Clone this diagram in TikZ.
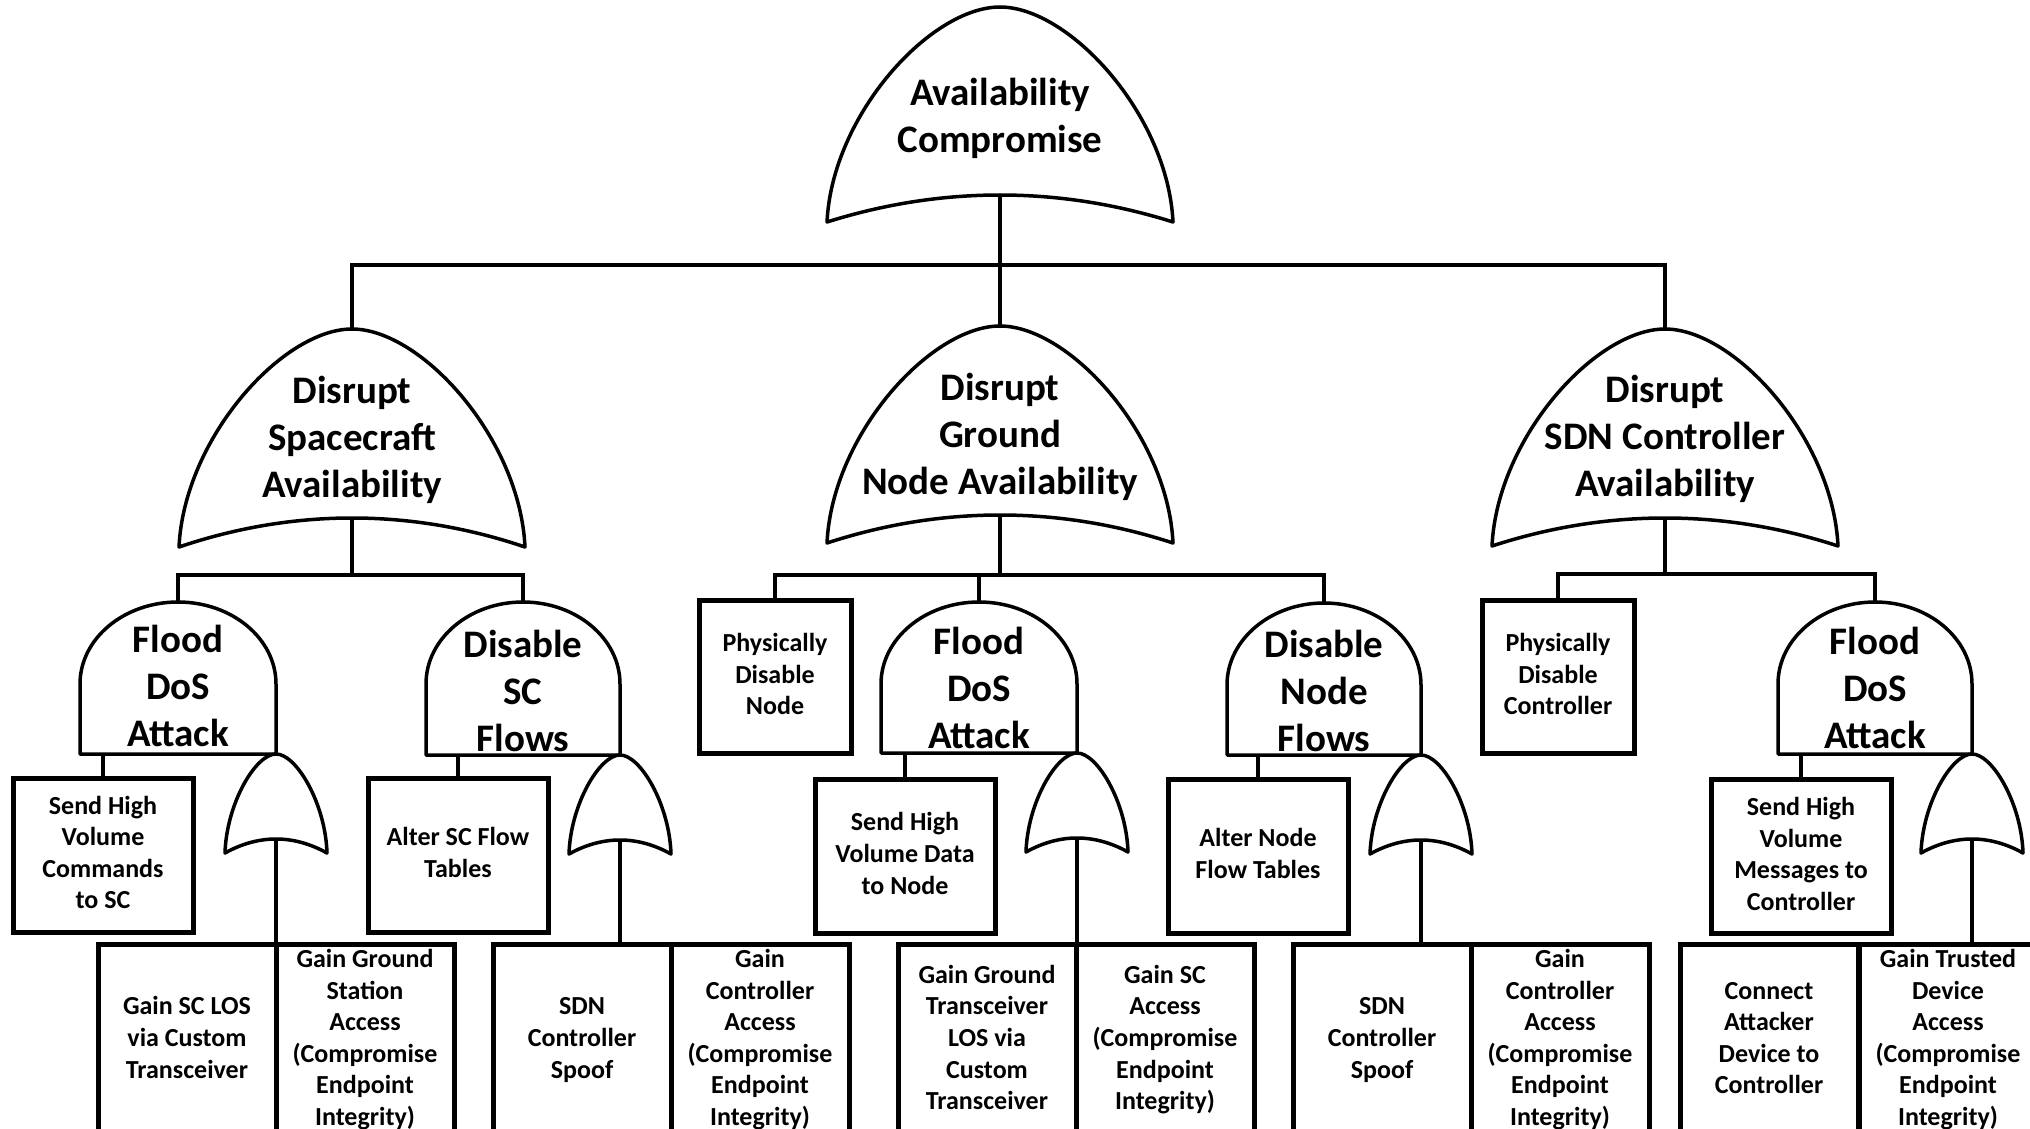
\documentclass[tikz,border=0pt]{standalone}
\usepackage{fontspec}
\setmainfont{Carlito}
\newcommand{\bigtxt}{\fontsize{39}{47}\selectfont\bfseries}
\newcommand{\smalltxt}{\fontsize{26}{31.6}\selectfont\bfseries}
\newcommand{\hiStrut}{\rule{0pt}{0.75em}}
\newcommand{\loStrut}{\rule[-0.25em]{0pt}{0.25em}}

\tikzset{
  gate/.style={draw=black, line width=3.5pt, fill=white, line join=round},
  conn/.style={draw=black, line width=4pt},
  box/.style={draw=black, line width=5pt, inner sep=0pt, align=center,
    font=\smalltxt, rectangle},
  leafbox/.style={box, minimum width=180pt, minimum height=154pt},
  physbox/.style={box, minimum width=152pt, minimum height=153pt},
  basebox/.style={box, minimum width=178pt, minimum height=192pt},
  gatetext/.style={align=center, font=\bigtxt, inner sep=0pt},
}

% OR gate: name, centre x, corner y, half width, height, bottom sag
\newcommand{\orgate}[6]{%
  \draw[gate] ({#2-#4},#3)
    .. controls ({#2-0.97*#4},{#3-0.5*#5}) and ({#2-0.4*#4},{#3-#5}) .. ({#2},{#3-#5})
    .. controls ({#2+0.4*#4},{#3-#5}) and ({#2+0.97*#4},{#3-0.5*#5}) .. ({#2+#4},#3)
    .. controls ({#2+0.34*#4},{#3-#6/0.75}) and ({#2-0.34*#4},{#3-#6/0.75}) .. ({#2-#4},#3)
    -- cycle;
  \coordinate (#1-top) at ({#2},{#3-#5});
  \coordinate (#1-bot) at ({#2},{#3-#6});
}

% AND gate: name, centre x, top y, bottom y, half width, dome height
\newcommand{\andgate}[6]{%
  \draw[gate] ({#2-#5},#4) -- ({#2-#5},{#3+#6})
    .. controls ({#2-#5},{#3+0.4477*#6}) and ({#2-0.5523*#5},#3) .. ({#2},#3)
    .. controls ({#2+0.5523*#5},#3) and ({#2+#5},{#3+0.4477*#6}) .. ({#2+#5},{#3+#6})
    -- ({#2+#5},#4) -- cycle;
  \coordinate (#1-top) at ({#2},#3);
  \coordinate (#1-br) at ({#2+#5},#4);
}

\begin{document}
\begin{tikzpicture}[x=1pt,y=-1pt]
\useasboundingbox (0,0) rectangle (2030,1129);
\fill[white] (0,0) rectangle (2030,1129);
\clip (0,0) rectangle (2030,1129);

% ---- top event and first level
\orgate{g0}{1000}{222}{173}{215}{27}
\node[gatetext] (t0) at (1000,119) {\hiStrut Availability\\Compromise\loStrut};

\orgate{gA}{352}{547}{173}{218}{29}
\node[gatetext] (tA) at (352,441) {\hiStrut Disrupt\\Spacecraft\\Availability\loStrut};
\orgate{gB}{1000}{543}{173}{217}{28}
\node[gatetext] (tB) at (1000,437.5) {\hiStrut Disrupt\\Ground\\Node Availability\loStrut};
\orgate{gC}{1665}{546}{173}{217}{28}
\node[gatetext] (tC) at (1665,440) {\hiStrut Disrupt\\SDN Controller\\Availability\loStrut};

% ---- AND gates
\andgate{fA}{178}{602}{754}{98}{82}
\node[gatetext] (tfA) at (178,690) {\hiStrut Flood\\DoS\\Attack\loStrut};
\andgate{dA}{523}{602}{755}{97}{82}
\node[gatetext] (tdA) at (523,695) {\hiStrut Disable\\SC\\Flows\loStrut};
\andgate{fB}{979}{602}{753}{98}{82}
\node[gatetext] (tfB) at (979,692) {\hiStrut Flood\\DoS\\Attack\loStrut};
\andgate{dB}{1324}{603}{755}{97}{82}
\node[gatetext] (tdB) at (1324,695) {\hiStrut Disable\\Node\\Flows\loStrut};
\andgate{fC}{1875}{602}{754}{97}{82}
\node[gatetext] (tfC) at (1875,692) {\hiStrut Flood\\DoS\\Attack\loStrut};

% ---- small OR gates hanging from the AND gates
\orgate{oA}{276}{853}{51}{99}{14}
\orgate{oD}{620}{854}{51}{99}{14}
\orgate{oB}{1077}{852}{51}{99}{14}
\orgate{oE}{1421}{854}{51}{99}{14}
\orgate{oC}{1972}{853}{51}{99}{14}

% ---- basic events
\node[physbox] (pN) at (775,676.5) {\hiStrut Physically\\Disable\\Node\loStrut};
\node[physbox] (pC) at (1558,676.5) {\hiStrut Physically\\Disable\\Controller\loStrut};

\node[leafbox] (sA) at (103,855) {\hiStrut Send High\\Volume\\Commands\\to SC\loStrut};
\node[leafbox] (aA) at (458,855) {\hiStrut Alter SC Flow\\Tables\loStrut};
\node[leafbox] (sB) at (905,856) {\hiStrut Send High\\Volume Data\\to Node\loStrut};
\node[leafbox] (aB) at (1258,856) {\hiStrut Alter Node\\Flow Tables\loStrut};
\node[leafbox] (sC) at (1801,856.5) {\hiStrut Send High\\Volume\\Messages to\\Controller\loStrut};

\node[basebox] (b1l) at (187,1040) {\hiStrut Gain SC LOS\\via Custom\\Transceiver\loStrut};
\node[basebox] (b1r) at (365,1040) {\hiStrut Gain Ground\\Station\\Access\\(Compromise\\Endpoint\\Integrity)\loStrut};
\node[basebox] (b2l) at (582,1040) {\hiStrut SDN\\Controller\\Spoof\loStrut};
\node[basebox] (b2r) at (760,1040) {\hiStrut Gain\\Controller\\Access\\(Compromise\\Endpoint\\Integrity)\loStrut};
\node[basebox] (b3l) at (987,1040) {\hiStrut Gain Ground\\Transceiver\\LOS via\\Custom\\Transceiver\loStrut};
\node[basebox] (b3r) at (1165,1040) {\hiStrut Gain SC\\Access\\(Compromise\\Endpoint\\Integrity)\loStrut};
\node[basebox] (b4l) at (1382,1040) {\hiStrut SDN\\Controller\\Spoof\loStrut};
\node[basebox] (b4r) at (1560,1040) {\hiStrut Gain\\Controller\\Access\\(Compromise\\Endpoint\\Integrity)\loStrut};
\node[basebox] (b5l) at (1769,1040) {\hiStrut Connect\\Attacker\\Device to\\Controller\loStrut};
\node[basebox] (b5r) at (1948,1040) {\hiStrut Gain Trusted\\Device\\Access\\(Compromise\\Endpoint\\Integrity)\loStrut};

% ---- connectors
\coordinate (bar0) at (1000,265);
\draw[conn] (g0-bot) -- (gB-top);
\draw[conn] (gA-top) |- (bar0) -| (gC-top);

\coordinate (barA) at (352,575);
\draw[conn] (gA-bot) -- (barA);
\draw[conn] (fA-top) |- (barA) -| (dA-top);

\coordinate (barB) at (1000,575);
\draw[conn] (gB-bot) -- (barB);
\draw[conn] (pN.north) |- (barB) -| (dB-top);
\draw[conn] (fB-top) -- (fB-top |- barB);

\coordinate (barC) at (1665,574);
\draw[conn] (gC-bot) -- (barC);
\draw[conn] (pC.north) |- (barC) -| (fC-top);

\draw[conn] (sA.north) -- (sA.north |- fA-br);
\draw[conn] (aA.north) -- (aA.north |- dA-br);
\draw[conn] (sB.north) -- (sB.north |- fB-br);
\draw[conn] (aB.north) -- (aB.north |- dB-br);
\draw[conn] (sC.north) -- (sC.north |- fC-br);

\draw[conn] (oA-bot) -- (oA-bot |- b1l.north);
\draw[conn] (oD-bot) -- (oD-bot |- b2l.north);
\draw[conn] (oB-bot) -- (oB-bot |- b3l.north);
\draw[conn] (oE-bot) -- (oE-bot |- b4l.north);
\draw[conn] (oC-bot) -- (oC-bot |- b5r.north);
\end{tikzpicture}
\end{document}
